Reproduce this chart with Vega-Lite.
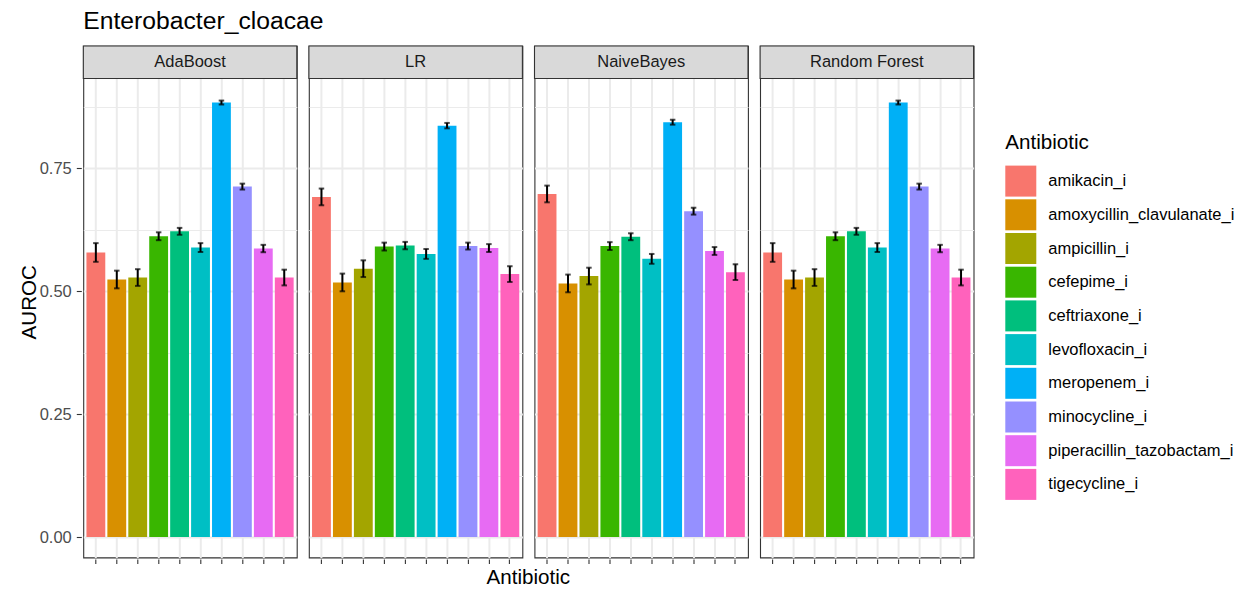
{
  "$schema": "https://vega.github.io/schema/vega-lite/v6.json",
  "background": "white",
  "padding": {"left": 18.3, "top": 8, "right": 5, "bottom": 0},
  "title": {"text": "Enterobacter_cloacae", "anchor": "start", "frame": "group", "fontSize": 24.7, "font": "Liberation Sans", "fontWeight": "normal", "color": "black", "offset": 11.5},
  "data": {"values": [
    {"model": "AdaBoost", "antibiotic": "amikacin_i", "auroc": 0.579, "err": 0.019},
    {"model": "AdaBoost", "antibiotic": "amoxycillin_clavulanate_i", "auroc": 0.524, "err": 0.018},
    {"model": "AdaBoost", "antibiotic": "ampicillin_i", "auroc": 0.528, "err": 0.017},
    {"model": "AdaBoost", "antibiotic": "cefepime_i", "auroc": 0.612, "err": 0.008},
    {"model": "AdaBoost", "antibiotic": "ceftriaxone_i", "auroc": 0.622, "err": 0.007},
    {"model": "AdaBoost", "antibiotic": "levofloxacin_i", "auroc": 0.589, "err": 0.009},
    {"model": "AdaBoost", "antibiotic": "meropenem_i", "auroc": 0.884, "err": 0.004},
    {"model": "AdaBoost", "antibiotic": "minocycline_i", "auroc": 0.713, "err": 0.006},
    {"model": "AdaBoost", "antibiotic": "piperacillin_tazobactam_i", "auroc": 0.587, "err": 0.0075},
    {"model": "AdaBoost", "antibiotic": "tigecycline_i", "auroc": 0.528, "err": 0.016},
    {"model": "LR", "antibiotic": "amikacin_i", "auroc": 0.692, "err": 0.017},
    {"model": "LR", "antibiotic": "amoxycillin_clavulanate_i", "auroc": 0.518, "err": 0.018},
    {"model": "LR", "antibiotic": "ampicillin_i", "auroc": 0.546, "err": 0.017},
    {"model": "LR", "antibiotic": "cefepime_i", "auroc": 0.591, "err": 0.008},
    {"model": "LR", "antibiotic": "ceftriaxone_i", "auroc": 0.593, "err": 0.0075},
    {"model": "LR", "antibiotic": "levofloxacin_i", "auroc": 0.576, "err": 0.01},
    {"model": "LR", "antibiotic": "meropenem_i", "auroc": 0.837, "err": 0.0055},
    {"model": "LR", "antibiotic": "minocycline_i", "auroc": 0.592, "err": 0.007},
    {"model": "LR", "antibiotic": "piperacillin_tazobactam_i", "auroc": 0.588, "err": 0.008},
    {"model": "LR", "antibiotic": "tigecycline_i", "auroc": 0.535, "err": 0.016},
    {"model": "NaiveBayes", "antibiotic": "amikacin_i", "auroc": 0.698, "err": 0.017},
    {"model": "NaiveBayes", "antibiotic": "amoxycillin_clavulanate_i", "auroc": 0.516, "err": 0.018},
    {"model": "NaiveBayes", "antibiotic": "ampicillin_i", "auroc": 0.531, "err": 0.017},
    {"model": "NaiveBayes", "antibiotic": "cefepime_i", "auroc": 0.592, "err": 0.008},
    {"model": "NaiveBayes", "antibiotic": "ceftriaxone_i", "auroc": 0.611, "err": 0.007},
    {"model": "NaiveBayes", "antibiotic": "levofloxacin_i", "auroc": 0.566, "err": 0.01},
    {"model": "NaiveBayes", "antibiotic": "meropenem_i", "auroc": 0.844, "err": 0.005},
    {"model": "NaiveBayes", "antibiotic": "minocycline_i", "auroc": 0.663, "err": 0.007},
    {"model": "NaiveBayes", "antibiotic": "piperacillin_tazobactam_i", "auroc": 0.582, "err": 0.008},
    {"model": "NaiveBayes", "antibiotic": "tigecycline_i", "auroc": 0.539, "err": 0.016},
    {"model": "Random Forest", "antibiotic": "amikacin_i", "auroc": 0.579, "err": 0.019},
    {"model": "Random Forest", "antibiotic": "amoxycillin_clavulanate_i", "auroc": 0.524, "err": 0.018},
    {"model": "Random Forest", "antibiotic": "ampicillin_i", "auroc": 0.528, "err": 0.017},
    {"model": "Random Forest", "antibiotic": "cefepime_i", "auroc": 0.612, "err": 0.008},
    {"model": "Random Forest", "antibiotic": "ceftriaxone_i", "auroc": 0.622, "err": 0.007},
    {"model": "Random Forest", "antibiotic": "levofloxacin_i", "auroc": 0.589, "err": 0.009},
    {"model": "Random Forest", "antibiotic": "meropenem_i", "auroc": 0.884, "err": 0.004},
    {"model": "Random Forest", "antibiotic": "minocycline_i", "auroc": 0.713, "err": 0.006},
    {"model": "Random Forest", "antibiotic": "piperacillin_tazobactam_i", "auroc": 0.587, "err": 0.0075},
    {"model": "Random Forest", "antibiotic": "tigecycline_i", "auroc": 0.528, "err": 0.016}
  ]},
  "facet": {
    "column": {
      "field": "model", "type": "nominal",
      "header": {"labels": false, "title": "Antibiotic", "titleOrient": "bottom", "titleFontSize": 20.6, "titleFont": "Liberation Sans", "titleFontWeight": "normal", "titleColor": "black", "titlePadding": -7}
    }
  },
  "spacing": {"column": 8.6},
  "spec": {
    "width": 213.5,
    "height": 511.5,
    "layer": [
      {
        "mark": {"type": "bar"},
        "encoding": {
          "x": {"field": "antibiotic", "type": "nominal", "scale": {"paddingInner": 0.1, "paddingOuter": 0.15},
            "axis": {"labels": false, "title": null, "domain": false, "ticks": true, "tickSize": 4.5, "tickColor": "#333333", "tickWidth": 1.1, "grid": true, "gridColor": "#EBEBEB", "gridWidth": 2, "bandPosition": 0.5}},
          "y": {"field": "auroc", "type": "quantitative", "title": "AUROC", "scale": {"domain": [-0.0415, 0.999], "nice": false, "zero": false},
            "axis": {"title": "AUROC", "titleFontSize": 20.6, "titleFont": "Liberation Sans", "titleFontWeight": "normal", "titleColor": "black", "titlePadding": 0,
              "values": [0, 0.125, 0.25, 0.375, 0.5, 0.625, 0.75, 0.875], "format": ".2f",
              "labelExpr": "datum.value * 4 % 1 === 0 ? datum.label : ''",
              "labelFontSize": 16.5, "labelFont": "Liberation Sans", "labelColor": "#4D4D4D", "labelPadding": 5,
              "domain": false, "tickSize": 5, "tickColor": "#333333", "tickWidth": 1.1,
              "tickOpacity": {"condition": {"test": "datum.value * 4 % 1 === 0", "value": 1}, "value": 0},
              "grid": true, "gridColor": "#EBEBEB",
              "gridWidth": {"condition": {"test": "datum.value * 4 % 1 === 0", "value": 2}, "value": 1}}},
          "y2": {"datum": 0},
          "color": {"field": "antibiotic", "type": "nominal",
            "scale": {"domain": ["amikacin_i", "amoxycillin_clavulanate_i", "ampicillin_i", "cefepime_i", "ceftriaxone_i", "levofloxacin_i", "meropenem_i", "minocycline_i", "piperacillin_tazobactam_i", "tigecycline_i"],
              "range": ["#F8766D", "#D89000", "#A3A500", "#39B600", "#00BF7D", "#00BFC4", "#00B0F6", "#9590FF", "#E76BF3", "#FF62BC"]},
            "legend": {"title": "Antibiotic", "orient": "none", "legendX": 922, "legendY": 87,
              "titleFontSize": 20.6, "titleFont": "Liberation Sans", "titleFontWeight": "normal", "titleColor": "black", "titlePadding": 12,
              "labelFontSize": 16.5, "labelFont": "Liberation Sans", "labelColor": "black", "labelOffset": 12, "labelLimit": 0,
              "symbolType": "square", "symbolSize": 961, "symbolStrokeWidth": 0, "symbolOpacity": 1, "rowPadding": 2.7}}
        }
      },
      {
        "mark": {"type": "errorbar", "color": "black", "thickness": 2, "ticks": {"size": 5.5, "thickness": 2, "color": "black"}},
        "encoding": {
          "x": {"field": "antibiotic", "type": "nominal"},
          "y": {"field": "auroc", "type": "quantitative", "title": "AUROC"},
          "yError": {"field": "err"}
        }
      },
      {
        "transform": [{"filter": {"field": "antibiotic", "equal": "amikacin_i"}}],
        "mark": {"type": "rect", "fill": "#D9D9D9", "stroke": "#333333", "strokeWidth": 1.1},
        "encoding": {
          "y": {"datum": 0.933, "type": "quantitative"},
          "y2": {"datum": 0.999}
        }
      },
      {
        "transform": [{"filter": {"field": "antibiotic", "equal": "amikacin_i"}}],
        "mark": {"type": "text", "font": "Liberation Sans", "fontSize": 16.5, "color": "#1A1A1A", "baseline": "middle", "align": "center"},
        "encoding": {
          "y": {"datum": 0.966, "type": "quantitative"},
          "text": {"field": "model"}
        }
      }
    ]
  },
  "config": {
    "view": {"stroke": "#333333", "strokeWidth": 1.1}
  }
}
